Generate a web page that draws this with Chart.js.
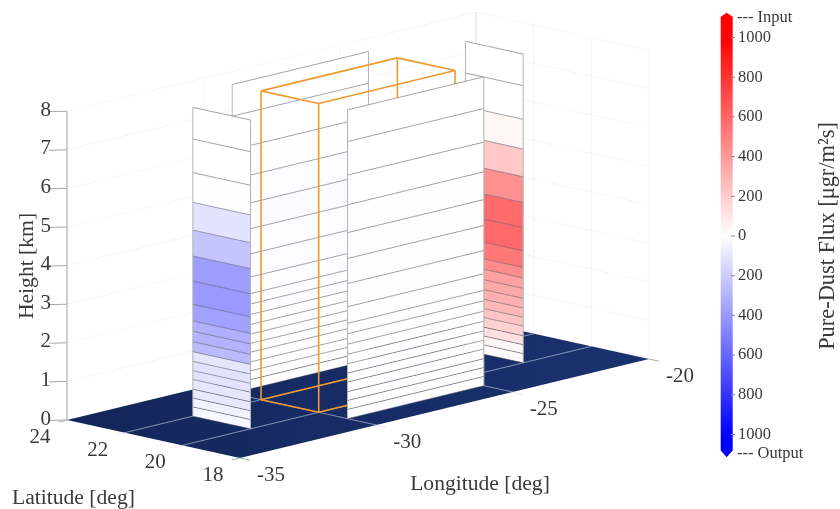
<!DOCTYPE html>
<html>
<head>
<meta charset="utf-8">
<style>
  html, body { margin: 0; padding: 0; background: #fff; }
  canvas { display: block; }
</style>
<script src="https://cdn.jsdelivr.net/npm/chart.js@4/dist/chart.umd.min.js"></script>
</head>
<body>
<canvas id="fluxChart" width="840" height="509"></canvas>
<script>
// Axis ticks
const heightTicks = [0, 1, 2, 3, 4, 5, 6, 7, 8];
const latTicks = [24, 22, 20, 18];
const lonTicks = [-35, -30, -25, -20];
const colorTicks = [1000, 800, 600, 400, 200, 0, -200, -400, -600, -800, -1000];

// Curtain layers [km]
const heightEdges = [0, 0.24, 0.47, 0.7, 0.95, 1.18, 1.42, 1.67, 1.93, 2.2, 2.47, 2.9, 3.5, 4.15, 4.82, 5.54, 6.31, 7.18, 8];

// Flux per layer, bottom to top (+ input, - output)
const westFlux = [-30, -50, -90, -100, -110, -110, -100, -270, -300, -310, -370, -400, -380, -230, -110, -5, 0, 0];
const eastFlux = [20, 40, 120, 180, 230, 280, 310, 340, 370, 450, 530, 590, 585, 435, 215, 35, 0, 0];
const northFlux = [-3, -3, -3, -3, -5, -5, -5, -5, -6, -6, -8, -10, -12, -14, -8, -3, 0, 0];
const southFlux = [-2, -2, -2, -2, -2, -2, -2, -2, -2, -2, -2, -2, -2, -2, -2, 0, 0, 0];

// Orthographic view of lon / lat / height onto the canvas
function project(lon, lat, z) {
    return {
        x: 240 + (lon + 35) * 27.27 - (lat - 18) * 28.83,
        y: 458 - (lon + 35) * 6.6 - (lat - 18) * 6.33 - z * 38.6
    };
}

function fluxColor(v) {
    const c = Math.round(255 * (1 - Math.min(Math.abs(v), 1000) / 1000));
    return v >= 0 ? `rgb(255,${c},${c})` : `rgb(${c},${c},255)`;
}

const colorY = v => 236 - v * 0.1985;
const datasets = [];

function addShape(points, color) {
    datasets.push({ data: points, showLine: true, fill: 'shape', backgroundColor: color, borderWidth: 0, pointRadius: 0 });
}

function addLine(points, color, width) {
    datasets.push({ data: points, showLine: true, fill: false, borderColor: color, borderWidth: width, pointRadius: 0 });
}

// from/to are [lon, lat] wall ends
function addWall(from, to, flux) {
    flux.forEach((v, i) => {
        addShape([
            project(from[0], from[1], heightEdges[i]),
            project(to[0], to[1], heightEdges[i]),
            project(to[0], to[1], heightEdges[i + 1]),
            project(from[0], from[1], heightEdges[i + 1])
        ], fluxColor(v));
    });
    heightEdges.forEach(z => {
        addLine([project(from[0], from[1], z), project(to[0], to[1], z)], 'rgba(70,70,80,0.62)', 0.8);
    });
    addLine([project(from[0], from[1], 0), project(from[0], from[1], 8)], '#b4b4b4', 1);
    addLine([project(to[0], to[1], 0), project(to[0], to[1], 8)], '#b4b4b4', 1);
}

function addBoxLine(a, b) {
    addLine([project(a[0], a[1], a[2]), project(b[0], b[1], b[2])], '#ee9a32', 1.6);
}

// Back panes of the 3D box
const gridColor = '#f5f5f5';
heightTicks.forEach(z => {
    addLine([project(-35, 24, z), project(-20, 24, z), project(-20, 18, z)], gridColor, 1);
    addLine([project(-35, 24, z), project(-35.35, 24.3, z)], '#a8a8a8', 1);
});
lonTicks.forEach(lon => addLine([project(lon, 24, 0), project(lon, 24, 8)], gridColor, 1));
latTicks.forEach(lat => addLine([project(-20, lat, 0), project(-20, lat, 8)], gridColor, 1));
addLine([project(-20, 24, 0), project(-20, 24, 8)], '#e2e2e2', 1);
addLine([project(-35, 24, 0), project(-35, 24, 8)], '#b0b0b0', 1.2);

const ctx = document.getElementById('fluxChart').getContext('2d');

// Floor
const floorGradient = ctx.createLinearGradient(67, 0, 649, 0);
floorGradient.addColorStop(0, '#13265b');
floorGradient.addColorStop(1, '#1b3270');
addShape([project(-35, 24, 0), project(-35, 18, 0), project(-20, 18, 0), project(-20, 24, 0)], floorGradient);
[22, 20].forEach(lat => addLine([project(-35.3, lat, 0), project(-20, lat, 0)], 'rgba(205,215,235,0.6)', 1));
[-30, -25].forEach(lon => addLine([project(lon, 24, 0), project(lon, 17.65, 0)], 'rgba(205,215,235,0.6)', 1));
addLine([project(-35.3, 24, 0), project(-35, 24, 0)], '#a8a8a8', 1);
addLine([project(-35, 18, 0), project(-35, 17.65, 0)], '#a8a8a8', 1);
addLine([project(-35.3, 18, 0), project(-35, 18, 0)], '#a8a8a8', 1);
addLine([project(-20, 18, 0), project(-20, 17.65, 0)], '#a8a8a8', 1);

// Curtains, back to front, with the orange box between them
addWall([-30, 23], [-25, 23], northFlux);
addWall([-22.5, 22], [-22.5, 20], eastFlux);

const corners = [[-30, 22], [-30, 20], [-25, 20], [-25, 22]];
corners.forEach((c, i) => {
    const n = corners[(i + 1) % 4];
    addBoxLine([c[0], c[1], 0], [n[0], n[1], 0]);
    addBoxLine([c[0], c[1], 8], [n[0], n[1], 8]);
    addBoxLine([c[0], c[1], 0], [c[0], c[1], 8]);
});

addWall([-32.5, 22], [-32.5, 20], westFlux);
addWall([-30, 19], [-25, 19], southFlux);

// Colour bar, filled with a gradient through the flux colours
const barGradient = ctx.createLinearGradient(0, colorY(1000), 0, colorY(-1000));
barGradient.addColorStop(0, fluxColor(1000));
barGradient.addColorStop(0.5, fluxColor(0));
barGradient.addColorStop(1, fluxColor(-1000));
addShape([
    { x: 720.7, y: colorY(1105) }, { x: 726.7, y: colorY(1125) }, { x: 732.7, y: colorY(1105) },
    { x: 732.7, y: colorY(-1080) }, { x: 726.7, y: colorY(-1115) }, { x: 720.7, y: colorY(-1080) }
], barGradient);
colorTicks.forEach(v => addLine([{ x: 731, y: colorY(v) }, { x: 735, y: colorY(v) }], '#888', 1));

// Paint in the order pushed
datasets.forEach((d, i) => { d.order = -i; d.tension = 0; });

const textPlugin = {
    id: 'axisText',
    afterDraw(chart) {
        const c = chart.ctx;
        const sx = chart.scales.x, sy = chart.scales.y;
        const put = (text, x, y, size, align) => {
            c.font = size + 'px "Liberation Serif"';
            c.textAlign = align;
            c.fillText(text, sx.getPixelForValue(x), sy.getPixelForValue(y));
        };
        c.save();
        c.fillStyle = '#3a3a3a';
        c.textBaseline = 'middle';
        heightTicks.forEach(z => {
            const p = project(-35, 24, z);
            put(String(z), p.x - 16, p.y - 1, 21, 'right');
        });
        latTicks.forEach(lat => {
            const p = project(-35, lat, 0);
            put(String(lat), p.x - 27, p.y + 17.5, 21, 'center');
        });
        lonTicks.forEach(lon => {
            const p = project(lon, 18, 0);
            put(String(lon), p.x + 31, p.y + 17, 21, 'center');
        });
        put('Latitude [deg]', 12, 498, 21.6, 'left');
        put('Longitude [deg]', 480, 484, 21.6, 'center');
        colorTicks.forEach(v => put(String(Math.abs(v)), 738, colorY(v), 16.5, 'left'));
        put('--- Input', 737, 18, 16.5, 'left');
        put('--- Output', 737, 454, 16.5, 'left');

        [['Height [km]', 27, 266, 21.6], ['Pure-Dust Flux [\u03bcgr/m\u00b2s]', 828, 236, 22.4]].forEach(t => {
            c.save();
            c.translate(sx.getPixelForValue(t[1]), sy.getPixelForValue(t[2]));
            c.rotate(-Math.PI / 2);
            c.font = t[3] + 'px "Liberation Serif"';
            c.textAlign = 'center';
            c.fillText(t[0], 0, 0);
            c.restore();
        });
        c.restore();
    }
};

new Chart(ctx, {
    type: 'scatter',
    data: { datasets: datasets },
    options: {
        responsive: false,
        animation: false,
        layout: { padding: 0 },
        plugins: { legend: { display: false }, tooltip: { enabled: false } },
        scales: {
            x: { type: 'linear', min: 0, max: 840, display: false },
            y: { type: 'linear', min: 0, max: 509, reverse: true, display: false }
        }
    },
    plugins: [textPlugin]
});
</script>
</body>
</html>
